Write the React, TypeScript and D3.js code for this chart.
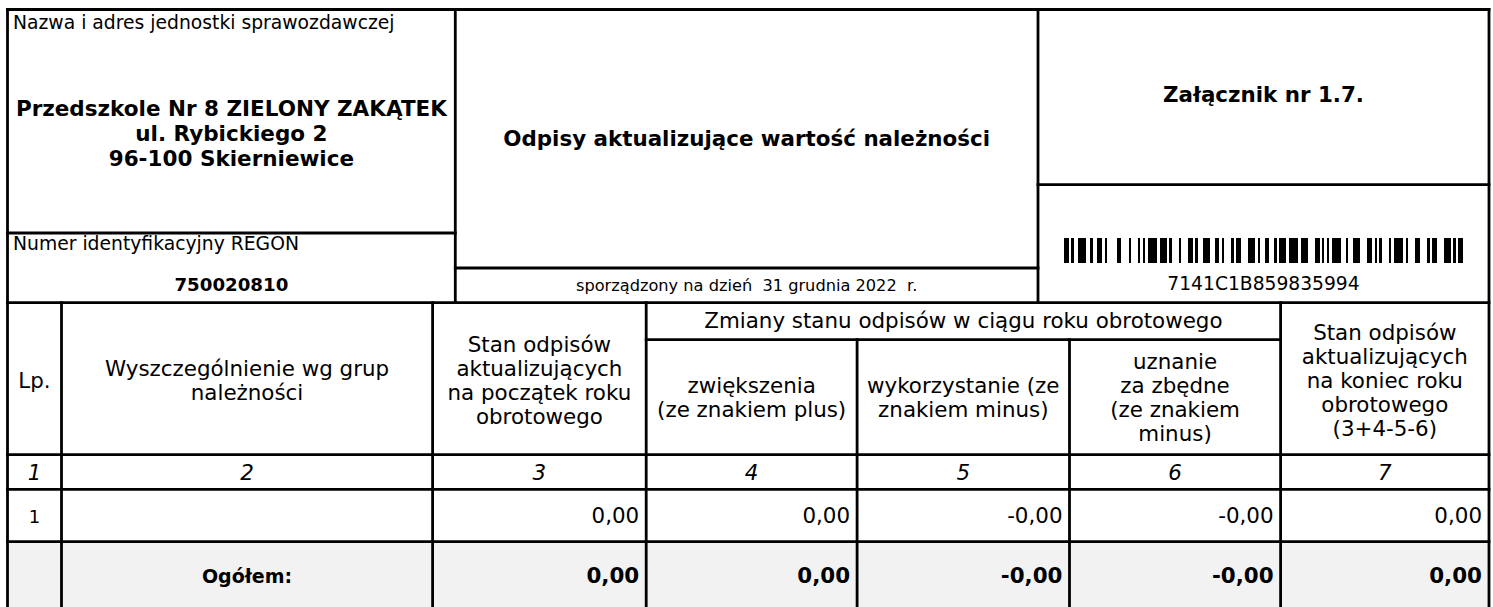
import React, { useRef, useEffect } from "react";
import * as d3 from "d3";

const width = 1493;
const height = 607;
const font = "'DejaVu Sans', sans-serif";

// form texts
const unitLabel = "Nazwa i adres jednostki sprawozdawczej";
const unitName = ["Przedszkole Nr 8 ZIELONY ZAKĄTEK", "ul. Rybickiego 2", "96-100 Skierniewice"];
const regonLabel = "Numer identyfikacyjny REGON";
const regon = "750020810";
const title = "Odpisy aktualizujące wartość należności";
const dateLine = "sporządzony na dzień  31 grudnia 2022  r.";
const annex = "Załącznik nr 1.7.";
const barcodeText = "7141C1B859835994";

// table
const columnKeys = ["lp", "name", "start", "plus", "used", "released", "end"];
const columnHeaders = [
  ["Lp."],
  ["Wyszczególnienie wg grup", "należności"],
  ["Stan odpisów", "aktualizujących", "na początek roku", "obrotowego"],
  ["zwiększenia", "(ze znakiem plus)"],
  ["wykorzystanie (ze", "znakiem minus)"],
  ["uznanie", "za zbędne", "(ze znakiem", "minus)"],
  ["Stan odpisów", "aktualizujących", "na koniec roku", "obrotowego", "(3+4-5-6)"],
];
const groupHeader = "Zmiany stanu odpisów w ciągu roku obrotowego";
const groupKeys = ["plus", "used", "released"];
const columnNumbers = ["1", "2", "3", "4", "5", "6", "7"];
const rowLp = ["1"];
const rowNames = [""];
const rowValues = [[0, 0, -0, -0, 0]];
const totalLabel = "Ogółem:";
const totalValues = [0, 0, -0, -0, 0];

// Code 128 patterns (values 0..106)
const code128 = [
  "212222", "222122", "222221", "121223", "121322", "131222", "122213", "122312", "132212", "221213",
  "221312", "231212", "112232", "122132", "122231", "113222", "123122", "123221", "223211", "221132",
  "221231", "213212", "223112", "312131", "311222", "321122", "321221", "312212", "322112", "322211",
  "212123", "212321", "232121", "111323", "131123", "131321", "112313", "132113", "132311", "211313",
  "231113", "231311", "112133", "112331", "132131", "113123", "113321", "133121", "313121", "211331",
  "231131", "213113", "213311", "213131", "311123", "311321", "331121", "312113", "312311", "332111",
  "314111", "221411", "431111", "111224", "111422", "121124", "121421", "141122", "141221", "112214",
  "112412", "122114", "122411", "142112", "142211", "241211", "221114", "413111", "241112", "134111",
  "111242", "121142", "121241", "114212", "124112", "124211", "411212", "421112", "421211", "212141",
  "214121", "412121", "111143", "111341", "131141", "114113", "114311", "411113", "411311", "113141",
  "114131", "311141", "411131", "211412", "211214", "211232", "2331112",
];

// layout
const colEdges = [7.5, 61.5, 432.6, 646.2, 857.1, 1069.5, 1280.6, 1489];
const top = 9.5;
const tableTop = 302.7;
const groupLine = 339.7;
const headerBottom = 454.7;
const numbersBottom = 489.3;
const dataBottom = 541.7;
const tableBottom = 625;

// code 128 with B/C switching
function encode128(s: string) {
  const syms: number[] = [];
  let mode = "";
  const switchTo = (m: string) => {
    if (mode === m) return;
    if (!mode) syms.push(m === "C" ? 105 : 104);
    else syms.push(m === "C" ? 99 : 100);
    mode = m;
  };
  const isDigit = (c: string) => c >= "0" && c <= "9";
  let i = 0;
  while (i < s.length) {
    let run = 0;
    while (i + run < s.length && isDigit(s[i + run])) run++;
    if (run >= 4 || (mode === "C" && run >= 2)) {
      if (run % 2 === 1) {
        switchTo("B");
        syms.push(s.charCodeAt(i) - 32);
        i++;
        run--;
      }
      switchTo("C");
      while (run >= 2) {
        syms.push(+s.slice(i, i + 2));
        i += 2;
        run -= 2;
      }
    } else {
      switchTo("B");
      syms.push(s.charCodeAt(i) - 32);
      i++;
    }
  }
  const check = syms.reduce((acc, v, k) => acc + (k === 0 ? v : v * k), 0) % 103;
  return [...syms, check, 106].map((v) => code128[v]).join("");
}

function fmtValue(v: number) {
  const f = d3.format(".2f");
  const neg = v < 0 || Object.is(v, -0);
  return (neg ? "-" : "") + f(Math.abs(v)).replace(".", ",");
}

export default function App() {
  const svgRef = useRef<SVGSVGElement>(null);

  useEffect(() => {
    const svg = d3.select(svgRef.current);
    svg.selectAll("*").remove();

    const xL = d3.scaleOrdinal<string, number>().domain(columnKeys).range(colEdges.slice(0, -1));
    const xR = d3.scaleOrdinal<string, number>().domain(columnKeys).range(colEdges.slice(1));
    const xC = (k: string) => (xL(k) + xR(k)) / 2;
    const left = colEdges[0];
    const right = colEdges[colEdges.length - 1];
    const split1 = 455.3;
    const split2 = 1038;

    const text = (x: number, y: number, s: string, size: number, opts: any = {}) =>
      svg
        .append("text")
        .attr("x", x)
        .attr("y", y)
        .attr("font-family", font)
        .attr("font-size", size)
        .attr("font-weight", opts.bold ? "bold" : "normal")
        .attr("font-style", opts.italic ? "italic" : "normal")
        .attr("text-anchor", opts.anchor || "middle")
        .attr("fill", "#000")
        .style("white-space", "pre")
        .text(s);

    // grey total row
    svg
      .append("rect")
      .attr("x", left)
      .attr("y", dataBottom)
      .attr("width", right - left)
      .attr("height", tableBottom - dataBottom)
      .attr("fill", "#f2f2f2");

    // barcode
    const pattern = encode128(barcodeText);
    const totalModules = d3.sum(pattern.split(""), (d) => +d);
    const bx = d3.scaleLinear().domain([0, totalModules]).range([1064, 1463]);
    let pos = 0;
    const bars: { x0: number; x1: number }[] = [];
    pattern.split("").forEach((d, i) => {
      const w = +d;
      if (i % 2 === 0) bars.push({ x0: pos, x1: pos + w });
      pos += w;
    });
    svg
      .append("g")
      .attr("shape-rendering", "crispEdges")
      .selectAll("rect")
      .data(bars)
      .enter()
      .append("rect")
      .attr("x", (d) => Math.round(bx(d.x0)))
      .attr("y", 238)
      .attr("width", (d) => Math.round(bx(d.x1)) - Math.round(bx(d.x0)))
      .attr("height", 25)
      .attr("fill", "#000");

    // lines
    const lines: [number, number, number, number][] = [
      [left, top, right, top],
      [left, top, left, tableBottom],
      [right, top, right, tableBottom],
      [split1, top, split1, tableTop],
      [split2, top, split2, tableTop],
      [left, 233, split1, 233],
      [split1, 268, split2, 268],
      [split2, 184.7, right, 184.7],
      [left, tableTop, right, tableTop],
      [xL("plus"), groupLine, xR("released"), groupLine],
      [left, headerBottom, right, headerBottom],
      [left, numbersBottom, right, numbersBottom],
      [left, dataBottom, right, dataBottom],
    ];
    columnKeys.slice(1).forEach((k) => {
      const inner = groupKeys.includes(k) && k !== "plus";
      lines.push([xL(k), inner ? groupLine : tableTop, xL(k), tableBottom]);
    });
    svg
      .append("g")
      .selectAll("line")
      .data(lines)
      .enter()
      .append("line")
      .attr("x1", (d) => d[0])
      .attr("y1", (d) => d[1])
      .attr("x2", (d) => d[2])
      .attr("y2", (d) => d[3])
      .attr("stroke", "#000")
      .attr("stroke-width", 2.8)
      .attr("stroke-linecap", "square");

    // header block
    text(13, 28.5, unitLabel, 18.75, { anchor: "start" });
    unitName.forEach((s, i) => text((left + split1) / 2, 116 + i * 25, s, 21.5, { bold: true }));
    text(13, 250, regonLabel, 18.75, { anchor: "start" });
    text((left + split1) / 2, 291, regon, 18.2, { bold: true });
    text((split1 + split2) / 2, 146, title, 21.4, { bold: true });
    text((split1 + split2) / 2, 291, dateLine, 16.2);
    text((split2 + right) / 2, 102, annex, 21.4, { bold: true });
    text((split2 + right) / 2, 290, barcodeText, 18.7);

    // column headers
    text((xL("plus") + xR("released")) / 2, 328, groupHeader, 21.4);
    columnKeys.forEach((k, i) => {
      const lines = columnHeaders[i];
      const cy = groupKeys.includes(k) ? (groupLine + headerBottom) / 2 : (tableTop + headerBottom) / 2 + 2;
      const first = cy - (lines.length - 1) * 12 + 7.3;
      lines.forEach((s, j) => text(xC(k), first + j * 24, s, 21.4));
      text(xC(k), 480, columnNumbers[i], 21.4, { italic: true });
    });

    // data rows
    const valueKeys = columnKeys.slice(2);
    rowValues.forEach((row, r) => {
      text(xC("lp"), 523, rowLp[r], 18);
      text(xC("name"), 523, rowNames[r], 21.4);
      row.forEach((v, i) => text(xR(valueKeys[i]) - 7, 523, fmtValue(v), 21.4, { anchor: "end" }));
    });

    // totals
    text(xC("name"), 583, totalLabel, 19, { bold: true });
    totalValues.forEach((v, i) =>
      text(xR(valueKeys[i]) - 7, 583, fmtValue(v), 21.4, { bold: true, anchor: "end" })
    );
  }, []);

  return (
    <div style={{ position: "absolute", left: 0, top: 0, width, height, background: "#fff" }}>
      <svg ref={svgRef} width={width} height={height} />
    </div>
  );
}
